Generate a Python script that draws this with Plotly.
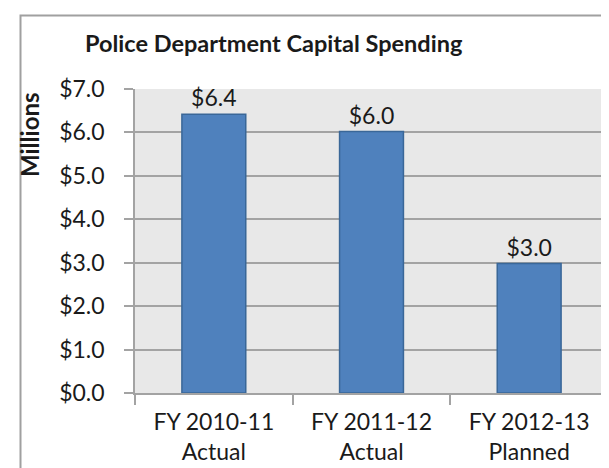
import plotly.graph_objects as go

categories = ["FY 2010-11<br>Actual", "FY 2011-12<br>Actual", "FY 2012-13<br>Planned"]
values = [6.42, 6.02, 2.98]
title_text = "Police Department Capital Spending"
y_title = "Millions"

W, H = 609, 468
L, R, T, B = 127, 9, 81, 83
pw = W - L - R
ph = H - T - B

def px_x(x):
    return (x - L) / pw

def px_y(y):
    return (H - B - y) / ph

FONT = "Lato, 'Open Sans', sans-serif"
TXT = "#1a1a1a"
GRID = "#a3a3a3"

fig = go.Figure(
    go.Bar(
        x=categories,
        y=values,
        width=0.405,
        marker=dict(color="#4f81bd", line=dict(color="#3a6798", width=1.5)),
        texttemplate="$%{y:.1f}",
        textposition="outside",
        textfont=dict(family=FONT, size=23, color=TXT),
        cliponaxis=False,
    )
)

fig.update_layout(
    width=W,
    height=H,
    margin=dict(l=L, r=R, t=T, b=B, autoexpand=False),
    paper_bgcolor="white",
    plot_bgcolor="#e8e8e8",
    showlegend=False,
    bargap=0.595,
    font=dict(family=FONT, color=TXT),
)

fig.update_yaxes(
    range=[0, 7],
    dtick=1,
    tickformat="$.1f",
    showgrid=True,
    gridcolor=GRID,
    gridwidth=1.5,
    showline=True,
    linecolor=GRID,
    linewidth=1.5,
    ticks="outside",
    ticklen=9,
    tickcolor=GRID,
    tickwidth=1.5,
    tickfont=dict(family=FONT, size=23, color=TXT),
    ticklabelstandoff=15,
    zeroline=False,
    automargin=False,
)

fig.update_xaxes(
    showline=True,
    linecolor=GRID,
    linewidth=1.5,
    ticks="outside",
    tickson="boundaries",
    ticklen=10,
    tickcolor=GRID,
    tickwidth=1.5,
    tickfont=dict(family=FONT, size=23, color=TXT),
    ticklabelstandoff=8,
    showgrid=False,
    automargin=False,
)

fig.add_annotation(
    text="<b>" + title_text + "</b>",
    xref="paper", yref="paper",
    x=px_x(266), y=px_y(35),
    xanchor="center", yanchor="middle",
    showarrow=False,
    font=dict(family=FONT, size=23.5, color=TXT),
)

fig.add_annotation(
    text="<b>" + y_title + "</b>",
    xref="paper", yref="paper",
    x=px_x(21), y=px_y(127),
    xanchor="center", yanchor="middle",
    textangle=-90,
    showarrow=False,
    font=dict(family=FONT, size=24, color=TXT),
)

x0 = px_x(12.5)
yt = px_y(7.5)
yb = px_y(472)
xr = px_x(612)
fig.add_shape(
    type="path",
    xref="paper", yref="paper",
    path=f"M {x0},{yb} L {x0},{yt} L {xr},{yt}",
    line=dict(color="#a0a0a0", width=2),
)

fig.write_html("out.html")
